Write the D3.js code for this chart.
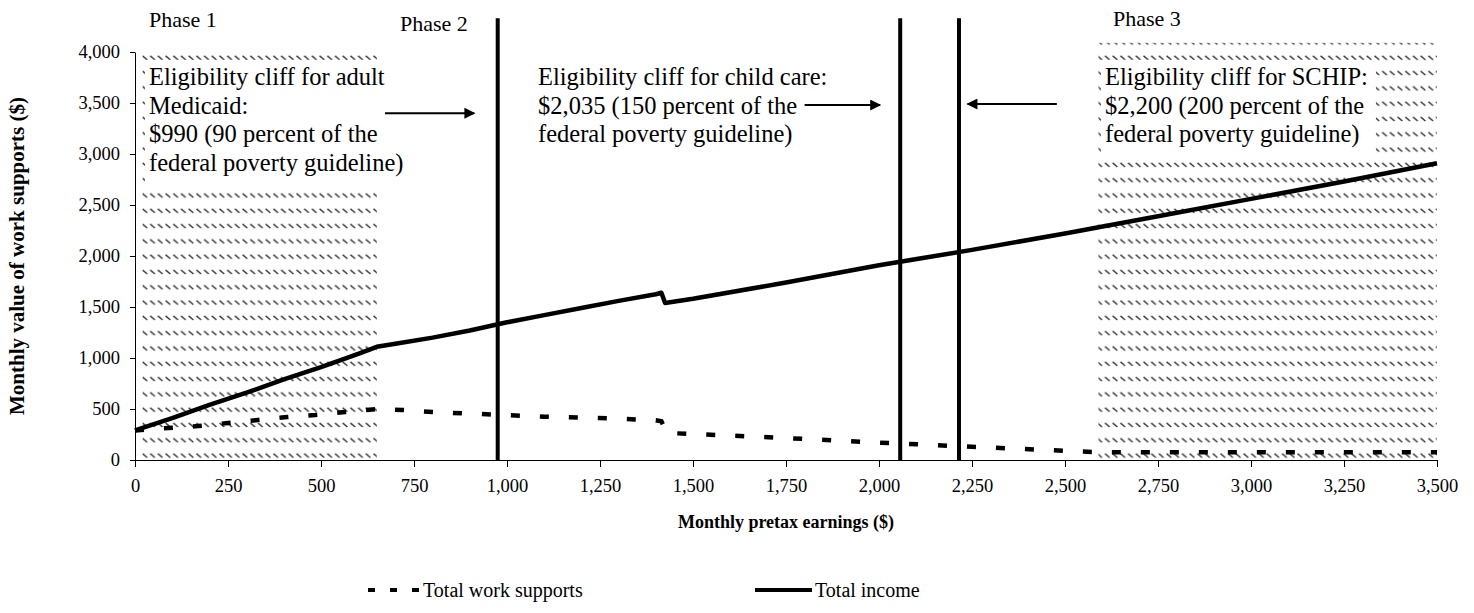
<!DOCTYPE html>
<html>
<head>
<meta charset="utf-8">
<script src="https://cdn.jsdelivr.net/npm/d3@7"></script>
<style>
  body { margin: 0; background: #ffffff; }
  text { font-family: "Liberation Serif", "Times New Roman", serif; fill: #000; }
</style>
</head>
<body>
<svg id="chart"></svg>
<script>
// monthly pretax earnings ($) where the total income line was read
const incomeEarnings = [0, 100, 200, 300, 400, 500, 600, 650, 700, 800, 900, 1000, 1100, 1200, 1300, 1400, 1415, 1425, 1500, 1750, 2000, 2250, 2500, 2750, 3000, 3250, 3500];
const totalIncome = [290, 410, 540, 660, 790, 910, 1040, 1110, 1140, 1200, 1270, 1350, 1420, 1490, 1560, 1625, 1640, 1540, 1580, 1740, 1910, 2060, 2220, 2390, 2560, 2730, 2910];

// monthly pretax earnings ($) where the work supports line was read
const supportEarnings = [0, 90, 170, 250, 330, 410, 485, 565, 650, 720, 800, 900, 1000, 1100, 1200, 1300, 1400, 1415, 1430, 1500, 1750, 2000, 2250, 2500, 2600, 2750, 3000, 3250, 3500];
const totalWorkSupports = [290, 314, 333, 363, 392, 421, 441, 470, 500, 490, 470, 455, 440, 425, 415, 405, 390, 380, 265, 255, 215, 170, 130, 90, 75, 75, 75, 75, 75];

const xTickValues = [0, 250, 500, 750, 1000, 1250, 1500, 1750, 2000, 2250, 2500, 2750, 3000, 3250, 3500];
const yTickValues = [0, 500, 1000, 1500, 2000, 2500, 3000, 3500, 4000];

// eligibility cliffs (vertical lines) and shaded phases
const cliffEarnings = [975, 2057, 2215];
const shadedStart = [20, 2590];
const shadedEnd = [650, 3500];
const shadedTop = [4000, 4090];
const phaseLabels = ["Phase 1", "Phase 2", "Phase 3"];
const noteLines = [
  ["Eligibility cliff for adult", "Medicaid:", "$990 (90 percent of the", "federal poverty guideline)"],
  ["Eligibility cliff for child care:", "$2,035 (150 percent of the", "federal poverty guideline)"],
  ["Eligibility cliff for SCHIP:", "$2,200 (200 percent of the", "federal poverty guideline)"]
];
const legendLabels = ["Total work supports", "Total income"];

const W = 1474, H = 613;

const svg = d3.select("#chart")
  .attr("width", W)
  .attr("height", H);

const x = d3.scaleLinear().domain([0, 3500]).range([135, 1437]);
const y = d3.scaleLinear().domain([0, 4000]).range([460, 52]);

// hatch pattern for the shaded phases
const defs = svg.append("defs");
const hatch = defs.append("pattern")
  .attr("id", "hatch")
  .attr("patternUnits", "userSpaceOnUse")
  .attr("x", 142)
  .attr("y", 55)
  .attr("width", 7.7)
  .attr("height", 15.3);
hatch.append("line")
  .attr("x1", 0.5).attr("y1", 0.8)
  .attr("x2", 5.2).attr("y2", 4.8)
  .attr("stroke", "#333")
  .attr("stroke-width", 1.4);

defs.append("marker")
  .attr("id", "arrowhead")
  .attr("viewBox", "0 0 10 10")
  .attr("refX", 9)
  .attr("refY", 5)
  .attr("markerUnits", "userSpaceOnUse")
  .attr("markerWidth", 13)
  .attr("markerHeight", 11)
  .attr("orient", "auto")
  .append("path")
  .attr("d", "M0,0 L10,5 L0,10 Z")
  .attr("fill", "#000");

// shaded phases 1 and 3
svg.append("g")
  .selectAll("rect")
  .data(shadedStart.map((s, i) => ({ start: s, end: shadedEnd[i], top: shadedTop[i] })))
  .enter()
  .append("rect")
  .attr("x", (d) => x(d.start))
  .attr("y", (d) => y(d.top))
  .attr("width", (d) => x(d.end) - x(d.start))
  .attr("height", (d) => y(0) - y(d.top))
  .attr("fill", "url(#hatch)");

// note text boxes (white background hides the hatch)
const notePos = [
  { x: 149, y: 85 },
  { x: 538, y: 85 },
  { x: 1105, y: 85 }
];
const lineGap = 28.5;

noteLines.forEach((lines, i) => {
  const g = svg.append("g");
  const box = g.append("rect").attr("fill", "#fff");
  const t = g.append("text")
    .style("font-size", "24.5px");
  lines.forEach((ln, j) => {
    t.append("tspan")
      .attr("x", notePos[i].x)
      .attr("y", notePos[i].y + j * lineGap)
      .text(ln);
  });
  const bb = t.node().getBBox();
  box
    .attr("x", bb.x - 4)
    .attr("y", bb.y - 3)
    .attr("width", bb.width + 12)
    .attr("height", bb.height + 16);
});

// phase labels
const phasePos = [
  { x: 149, y: 27 },
  { x: 400, y: 31 },
  { x: 1113, y: 26 }
];
svg.append("g")
  .selectAll("text")
  .data(phaseLabels)
  .enter()
  .append("text")
  .attr("x", (d, i) => phasePos[i].x)
  .attr("y", (d, i) => phasePos[i].y)
  .style("font-size", "22px")
  .text((d) => d);

// series lines
const seriesLine = d3.line()
  .x((d) => x(d[0]))
  .y((d) => y(d[1]));

svg.append("path")
  .datum(supportEarnings.map((e, i) => [e, totalWorkSupports[i]]))
  .attr("d", seriesLine)
  .attr("fill", "none")
  .attr("stroke", "#000")
  .attr("stroke-width", 4.5)
  .attr("stroke-dasharray", "9,20");

svg.append("path")
  .datum(incomeEarnings.map((e, i) => [e, totalIncome[i]]))
  .attr("d", seriesLine)
  .attr("fill", "none")
  .attr("stroke", "#000")
  .attr("stroke-width", 4.5)
  .attr("stroke-linejoin", "round");

// eligibility cliff lines
svg.append("g")
  .selectAll("line")
  .data(cliffEarnings)
  .enter()
  .append("line")
  .attr("x1", (d) => x(d))
  .attr("x2", (d) => x(d))
  .attr("y1", y(0))
  .attr("y2", y(4330))
  .attr("stroke", "#000")
  .attr("stroke-width", 4);

// arrows pointing at the cliffs (earnings from -> to, at a value level)
const arrows = [
  { from: 672, to: 912, level: 3400 },
  { from: 1800, to: 2003, level: 3480 },
  { from: 2478, to: 2238, level: 3490 }
];
svg.append("g")
  .selectAll("line")
  .data(arrows)
  .enter()
  .append("line")
  .attr("x1", (d) => x(d.from))
  .attr("x2", (d) => x(d.to))
  .attr("y1", (d) => y(d.level))
  .attr("y2", (d) => y(d.level))
  .attr("stroke", "#000")
  .attr("stroke-width", 2)
  .attr("marker-end", "url(#arrowhead)");

// axes
const yAxis = d3.axisLeft(y)
  .tickValues(yTickValues)
  .tickFormat(d3.format(","))
  .tickSizeInner(5)
  .tickSizeOuter(0)
  .tickPadding(10);

const xAxis = d3.axisBottom(x)
  .tickValues(xTickValues)
  .tickFormat(d3.format(","))
  .tickSizeInner(7)
  .tickSizeOuter(0)
  .tickPadding(12);

const gy = svg.append("g")
  .attr("transform", `translate(${x(0)},0)`)
  .call(yAxis);
const gx = svg.append("g")
  .attr("transform", `translate(0,${y(0)})`)
  .call(xAxis);

[gx, gy].forEach((g) => {
  g.selectAll("path, line").attr("stroke", "#000");
  g.selectAll("text")
    .style("font-family", "'Liberation Serif', 'Times New Roman', serif")
    .style("font-size", "18.5px")
    .attr("fill", "#000");
});

// axis titles
svg.append("text")
  .attr("x", (x(0) + x(3500)) / 2)
  .attr("y", 528)
  .attr("text-anchor", "middle")
  .style("font-size", "18px")
  .style("font-weight", "bold")
  .text("Monthly pretax earnings ($)");

svg.append("text")
  .attr("transform", `translate(24, ${(y(0) + y(4000)) / 2}) rotate(-90)`)
  .attr("text-anchor", "middle")
  .style("font-size", "21px")
  .style("font-weight", "bold")
  .text("Monthly value of work supports ($)");

// legend
const legendItems = [
  { x1: 368, x2: 420, dash: "7,15" },
  { x1: 755, x2: 812, dash: null }
];
const legend = svg.append("g");
legendItems.forEach((it, i) => {
  legend.append("line")
    .attr("x1", it.x1)
    .attr("x2", it.x2)
    .attr("y1", 590)
    .attr("y2", 590)
    .attr("stroke", "#000")
    .attr("stroke-width", 4)
    .attr("stroke-dasharray", it.dash);
  legend.append("text")
    .attr("x", it.x2 + 3)
    .attr("y", 597)
    .style("font-size", "20px")
    .text(legendLabels[i]);
});
</script>
</body>
</html>
